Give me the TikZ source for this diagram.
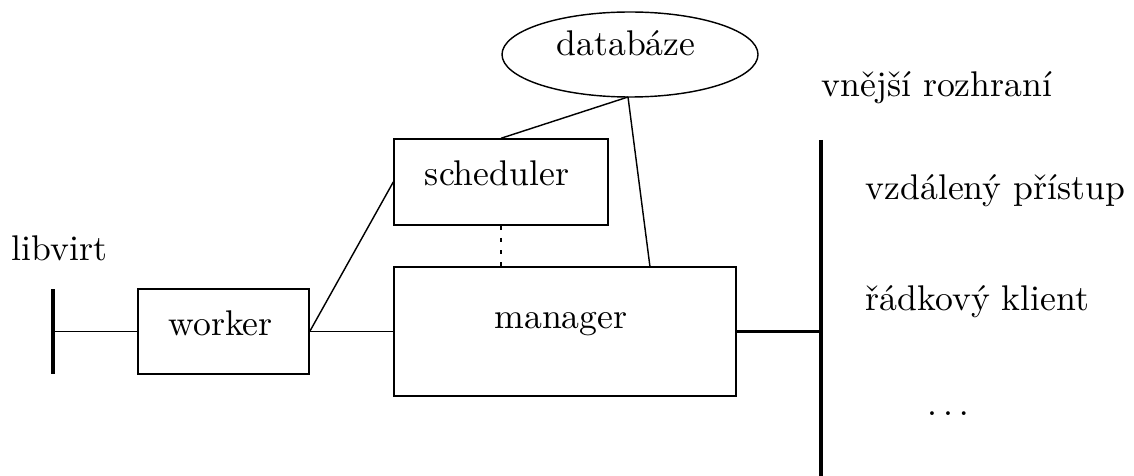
\documentclass[tikz,border=0pt]{standalone}
\usepackage{tikz}
\usetikzlibrary{shapes.geometric,calc}
\begin{document}
\begin{tikzpicture}[x=0.28pt,y=-0.28pt,
  thinline/.style={line width=0.4pt},
  boxnode/.style={draw,thinline,rectangle,inner sep=0pt},
  txt/.style={inner sep=0pt,font=\fontsize{10}{12}\selectfont},
  barline/.style={line width=1.25pt},
  busline/.style={line width=0.9pt},
  dotline/.style={thinline,dash pattern=on 1.1pt off 2.3pt}]
\useasboundingbox (0,0) rectangle (1134,476);

% boxes
\node[boxnode,minimum width=171*0.28pt,minimum height=85*0.28pt] (worker) at (223.5,331.5) {};
\node[boxnode,minimum width=214*0.28pt,minimum height=86*0.28pt] (scheduler) at (501,182) {};
\node[boxnode,minimum width=342*0.28pt,minimum height=129*0.28pt] (manager) at (565,331.5) {};
\node[draw,thinline,ellipse,inner sep=0pt,minimum width=256*0.28pt,minimum height=85*0.28pt] (db) at (630,54.5) {};

% texts
\node[txt,anchor=base] (workertxt) at (220.5,335) {worker};
\node[txt,anchor=base] (schedtxt) at (497,185) {scheduler};
\node[txt,anchor=base] (mgrtxt) at (561,328) {manager};
\node[txt,anchor=base] (dbtxt) at (626,56) {databáze};
\node[txt,anchor=base west] (libvirt) at (11,260) {libvirt};
\node[txt,anchor=base west] (ext) at (821,97) {vnější rozhraní};
\node[txt,anchor=base west] (remote) at (865,200) {vzdálený přístup};
\node[txt,anchor=base west] (cli) at (865,310) {řádkový klient};
\node[txt,anchor=base] (dots) at (948,415) {$\ldots$};

% libvirt bar
\coordinate (lvtop) at (53,289);
\coordinate (lvbot) at (53,374);
\coordinate (lvmid) at (53,331.5);
\draw[barline] (lvtop) -- (lvbot);
\draw[thinline] (lvmid) -- (worker.west);

% connectors
\draw[thinline] (worker.east) -- (manager.west);
\draw[thinline] (worker.east) -- (scheduler.west);
\draw[dotline] (scheduler.south) -- (scheduler.south |- manager.north);
\coordinate (dbfoot) at (628,97);
\coordinate (mgrdb) at (650,267);
\draw[thinline] (dbfoot) -- (scheduler.north);
\draw[thinline] (dbfoot) -- (mgrdb);

% external bus
\coordinate (bustop) at (821,140);
\coordinate (busbot) at (821,476);
\draw[barline] (bustop) -- (busbot);
\draw[busline] (manager.east) -- (manager.east -| bustop);
\end{tikzpicture}
\end{document}
